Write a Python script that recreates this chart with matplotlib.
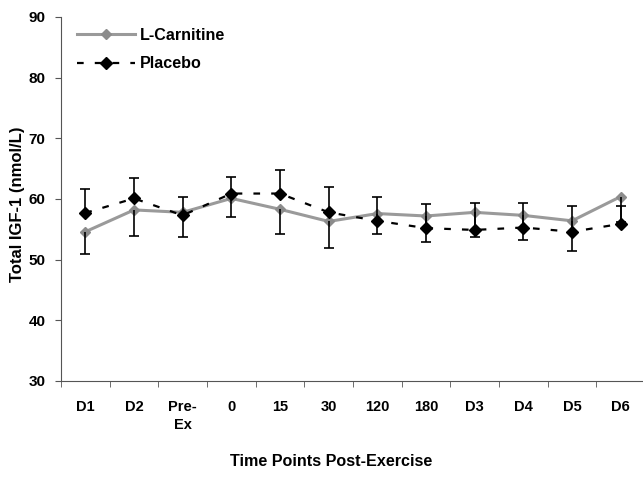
import numpy as np
import matplotlib
matplotlib.use("Agg")
import matplotlib.pyplot as plt

plt.rcParams['font.family'] = ['Liberation Sans', 'DejaVu Sans']
plt.rcParams['font.weight'] = 'bold'

categories = ['D1', 'D2', 'Pre-\nEx', '0', '15', '30', '120', '180', 'D3', 'D4', 'D5', 'D6']

# L-Carnitine means and (downward) error
lc_mean = [54.6, 58.2, 57.8, 60.1, 58.3, 56.3, 57.6, 57.2, 57.8, 57.3, 56.4, 60.4]
lc_err = [3.7, 4.3, 4.1, 3.0, 4.0, 4.4, 3.4, 4.25, 4.0, 4.1, 4.9, 4.2]

# Placebo means and (upward) error
pl_mean = [57.7, 60.1, 57.3, 60.9, 60.9, 57.8, 56.4, 55.2, 54.9, 55.3, 54.6, 55.9]
pl_err = [3.9, 3.3, 3.1, 2.8, 3.9, 4.1, 3.9, 3.9, 4.5, 4.1, 4.2, 2.9]

x = np.arange(len(categories))
lc_mean = np.array(lc_mean)
pl_mean = np.array(pl_mean)
lc_err = np.array(lc_err)
pl_err = np.array(pl_err)

fig = plt.figure(figsize=(6.43, 4.79), dpi=100)
ax = fig.add_axes([61 / 643, 1 - 381 / 479, 584 / 643, 364 / 479])

ax.plot(x, lc_mean, color='#9a9a9a', lw=2.2, marker='D', ms=5.5,
        mfc='#8c8c8c', mec='#8c8c8c', label='L-Carnitine', zorder=2)
ax.plot(x, pl_mean, color='black', lw=1.6, ls=(0, (3, 5)), marker='D', ms=6,
        mfc='black', mec='black', label='Placebo', zorder=3)

# error bars: L-Carnitine down, Placebo up
zeros = np.zeros(len(x))
ax.errorbar(x, lc_mean, yerr=[lc_err, zeros], fmt='none', ecolor='black',
            elinewidth=1.2, capsize=0, zorder=4)
ax.errorbar(x, pl_mean, yerr=[zeros, pl_err], fmt='none', ecolor='black',
            elinewidth=1.2, capsize=0, zorder=4)
ax.plot(x, lc_mean - lc_err, ls='none', marker='_', ms=7.5, mew=1.2, color='black', zorder=4)
ax.plot(x, pl_mean + pl_err, ls='none', marker='_', ms=7.5, mew=1.2, color='black', zorder=4)

ax.set_xlim(-0.5, len(x) - 0.5)
ax.set_ylim(30, 90)
ax.set_yticks(np.arange(30, 91, 10))

ax.set_xticks(x)
ax.set_xticklabels(categories, fontsize=10.5, fontweight='bold', linespacing=1.3)
ax.set_xticks(np.arange(-0.5, len(x), 1), minor=True)
ax.tick_params(axis='x', which='major', length=0, pad=14)
ax.tick_params(axis='x', which='minor', length=4, direction='out', color='#555555')
ax.tick_params(axis='y', length=4, direction='out', pad=7, labelsize=11, color='#555555')
for lab in ax.get_yticklabels():
    lab.set_fontweight('bold')

for side in ['top', 'right']:
    ax.spines[side].set_visible(False)
ax.spines['left'].set_color('#555555')
ax.spines['bottom'].set_color('#555555')

leg = ax.legend(loc='upper left', bbox_to_anchor=(16 / 584, (381 - 28) / 364),
                frameon=False, borderaxespad=0, borderpad=0,
                numpoints=1, handlelength=3.6, handletextpad=0.3,
                labelspacing=0.82, prop={'weight': 'bold', 'size': 11.6})

fig.text(18 / 643, 1 - 204 / 479, 'Total IGF-1 (nmol/L)', rotation=90,
         ha='center', va='center', fontsize=12, fontweight='bold')
fig.text(331 / 643, 1 - 462 / 479, 'Time Points Post-Exercise',
         ha='center', va='center', fontsize=11.6, fontweight='bold')

fig.savefig('out.png', dpi=100)
